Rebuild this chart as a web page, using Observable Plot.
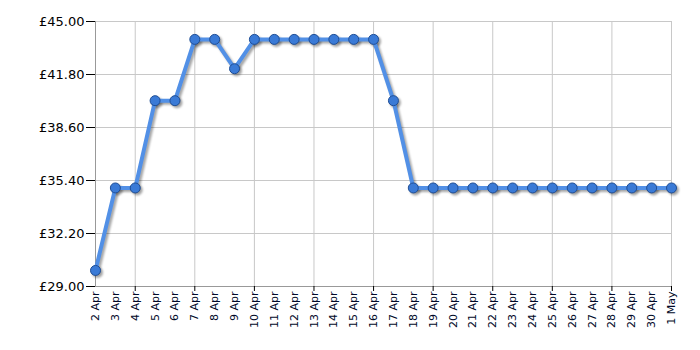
<!DOCTYPE html>
<html>
<head>
<meta charset="utf-8">
<script src="https://cdn.jsdelivr.net/npm/d3@7"></script>
<script src="https://cdn.jsdelivr.net/npm/@observablehq/plot@0.6"></script>
<style>
  html, body { margin: 0; padding: 0; background: #fff; }
  #chart { width: 700px; height: 350px; }
</style>
</head>
<body>
<div id="chart"></div>
<script>
const dates = ["2 Apr","3 Apr","4 Apr","5 Apr","6 Apr","7 Apr","8 Apr","9 Apr","10 Apr","11 Apr",
  "12 Apr","13 Apr","14 Apr","15 Apr","16 Apr","17 Apr","18 Apr","19 Apr","20 Apr","21 Apr",
  "22 Apr","23 Apr","24 Apr","25 Apr","26 Apr","27 Apr","28 Apr","29 Apr","30 Apr","1 May"];
const prices = [29.97, 34.95, 34.95, 40.22, 40.22, 43.92, 43.92, 42.15, 43.92, 43.92,
  43.92, 43.92, 43.92, 43.92, 43.92, 40.22, 34.95, 34.95, 34.95, 34.95,
  34.95, 34.95, 34.95, 34.95, 34.95, 34.95, 34.95, 34.95, 34.95, 34.95];
const yTicks = [29, 32.2, 35.4, 38.6, 41.8, 45];
const gridDates = ["4 Apr","7 Apr","10 Apr","13 Apr","16 Apr","19 Apr","22 Apr","25 Apr","28 Apr","1 May"];

const data = dates.map((d, i) => ({i, date: d, price: prices[i]}));
const allIdx = dates.map((d, i) => i);
const gridIdx = gridDates.map(d => dates.indexOf(d));

const chart = Plot.plot({
  width: 700,
  height: 350,
  marginLeft: 95,
  marginRight: 29,
  marginTop: 21,
  marginBottom: 64,
  style: {fontFamily: "DejaVu Sans, Verdana, sans-serif", background: "#fff"},
  x: {domain: [0, dates.length - 1]},
  y: {domain: [29, 45]},
  marks: [
    Plot.gridY(yTicks, {stroke: "#c8c8c8", strokeOpacity: 1}),
    Plot.gridX(gridIdx, {stroke: "#c8c8c8", strokeOpacity: 1}),
    Plot.ruleX([0], {stroke: "#999"}),
    Plot.ruleY([29], {stroke: "#999"}),
    Plot.axisY({ticks: yTicks, tickFormat: d => "£" + d.toFixed(2), tickSize: 9, tickPadding: 2,
      fontSize: 13, color: "#000", label: null}),
    Plot.axisX({ticks: allIdx, tickFormat: i => dates[i], tickSize: 0, tickPadding: 5, tickRotate: -90,
      fontSize: 11, color: "#000828", label: null}),
    Plot.axisX({ticks: gridIdx, tickSize: 5, text: null, label: null, stroke: "#000"}),
    // shadow
    Plot.line(data, {x: "i", y: "price", stroke: "#000", strokeOpacity: 0.35, strokeWidth: 4, dx: 2, dy: 2}),
    Plot.dot(data, {x: "i", y: "price", r: 5.5, fill: "#000", fillOpacity: 0.35, dx: 2, dy: 2}),
    Plot.line(data, {x: "i", y: "price", stroke: "#5290e6", strokeWidth: 4}),
    Plot.dot(data, {x: "i", y: "price", r: 5, fill: "#3a7ad6", stroke: "#1f4e96", strokeWidth: 1})
  ]
});
// soft blur for the drop shadow
const ns = "http://www.w3.org/2000/svg";
const defs = document.createElementNS(ns, "defs");
defs.innerHTML = '<filter id="soft" x="-10%" y="-10%" width="120%" height="120%"><feGaussianBlur stdDeviation="1"/></filter>';
chart.insertBefore(defs, chart.firstChild);
const lines = chart.querySelectorAll('g[aria-label="line"]');
const dots = chart.querySelectorAll('g[aria-label="dot"]');
if (lines[0]) lines[0].setAttribute("filter", "url(#soft)");
if (dots[0]) dots[0].setAttribute("filter", "url(#soft)");
document.getElementById("chart").append(chart);
</script>
</body>
</html>
